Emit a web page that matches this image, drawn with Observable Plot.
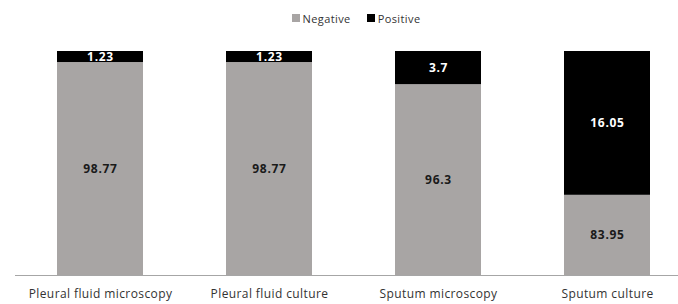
<!DOCTYPE html>
<html>
<head>
<meta charset="utf-8">
<script src="https://cdn.jsdelivr.net/npm/d3@7"></script>
<script src="https://cdn.jsdelivr.net/npm/@observablehq/plot@0.6"></script>
<style>
  html, body { margin: 0; padding: 0; background: #fff; overflow: hidden; }
  body { width: 678px; height: 304px; font-family: "Open Sans", sans-serif; }
  #legend { height: 36px; display: flex; justify-content: center; align-items: center; padding-left: 34px; box-sizing: border-box; font-size: 11px; color: #333; letter-spacing: 0.4px; }
  #legend .item { display: flex; align-items: center; margin: 0 8px; }
  #legend .sw { width: 8px; height: 8px; margin-right: 3px; }
</style>
</head>
<body>
<div id="legend"></div>
<div id="chart"></div>
<script>
const categories = ["Pleural fluid microscopy", "Pleural fluid culture", "Sputum microscopy", "Sputum culture"];
const negative = [98.77, 98.77, 96.3, 83.95];
const positive = [1.23, 1.23, 3.7, 16.05];
const seriesNames = ["Negative", "Positive"];
const seriesColors = ["#a8a5a4", "#000000"];
const yDomain = [75, 100];

const rows = [];
categories.forEach((c, i) => {
  rows.push({cat: c, series: "Negative", value: negative[i], y1: 0, y2: negative[i]});
  rows.push({cat: c, series: "Positive", value: positive[i], y1: negative[i], y2: negative[i] + positive[i]});
});

const legend = document.getElementById("legend");
seriesNames.forEach((s, i) => {
  const it = document.createElement("div");
  it.className = "item";
  const sw = document.createElement("span");
  sw.className = "sw";
  sw.style.background = seriesColors[i];
  const t = document.createElement("span");
  t.textContent = s;
  it.appendChild(sw); it.appendChild(t);
  legend.appendChild(it);
});

const mid = d => (Math.max(d.y1, yDomain[0]) + Math.min(d.y2, yDomain[1])) / 2;

const chart = Plot.plot({
  width: 678,
  height: 268,
  marginTop: 15,
  marginBottom: 29,
  marginLeft: 15,
  marginRight: 0,
  style: {fontFamily: "Open Sans, sans-serif", fontSize: "12px", color: "#333", background: "#fff"},
  x: {domain: categories, paddingInner: 0.49, paddingOuter: 0.2065, align: 0.6, label: null, tickSize: 0, tickPadding: 14},
  y: {domain: yDomain, axis: null},
  color: {domain: seriesNames, range: seriesColors},
  marks: [
    Plot.barY(rows, {x: "cat", y1: "y1", y2: "y2", fill: "series", clip: true}),
    Plot.ruleY([yDomain[0]], {stroke: "#a6a6a6", strokeWidth: 1}),
    Plot.text(rows, {x: "cat", y: mid, text: d => String(d.value), fill: d => d.series === "Positive" ? "#ffffff" : "#1a1a1a", fontWeight: "bold", fontSize: 12})
  ]
});
chart.querySelectorAll('[aria-label="x-axis tick label"] text').forEach(t => t.style.letterSpacing = "0.4px");
chart.querySelectorAll('[aria-label="text"] text').forEach(t => t.style.letterSpacing = "0.7px");
document.getElementById("chart").appendChild(chart);
</script>
</body>
</html>
